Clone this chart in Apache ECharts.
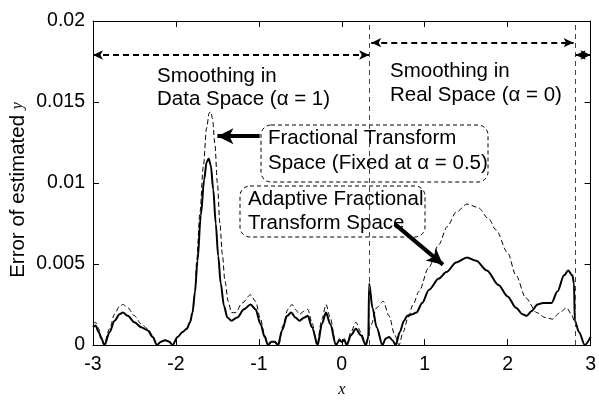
<!DOCTYPE html>
<html>
<head>
<meta charset="utf-8">
<script src="https://cdn.jsdelivr.net/npm/echarts@6/dist/echarts.min.js"></script>
<style>html,body{margin:0;padding:0;background:#fff}#c{width:599px;height:403px}</style>
</head>
<body>
<div id="c"></div>
<script>
// ---- data ----
const xTicks = [-3, -2, -1, 0, 1, 2, 3];
const yTicks = [0, 0.005, 0.01, 0.015, 0.02];

const adaptiveX = [-3.00,-2.97,-2.93,-2.90,-2.86,-2.80,-2.74,-2.68,-2.64,-2.58,-2.50,-2.42,-2.34,-2.28,-2.23,-2.18,-2.13,-2.08,-2.04,-1.98,-1.92,-1.87,-1.83,-1.80,-1.77,-1.74,-1.70,-1.66,-1.63,-1.605,-1.58,-1.55,-1.52,-1.49,-1.46,-1.42,-1.38,-1.33,-1.26,-1.18,-1.10,-1.04,-0.98,-0.93,-0.89,-0.85,-0.81,-0.77,-0.72,-0.66,-0.61,-0.56,-0.51,-0.45,-0.41,-0.36,-0.29,-0.24,-0.19,-0.14,-0.07,-0.03,0.00,0.03,0.06,0.11,0.17,0.23,0.29,0.32,0.33,0.37,0.42,0.49,0.53,0.57,0.61,0.65,0.70,0.75,0.79,0.85,0.90,0.97,1.05,1.17,1.26,1.38,1.51,1.62,1.75,1.89,2.00,2.10,2.18,2.23,2.29,2.36,2.43,2.53,2.60,2.68,2.73,2.78,2.80,2.81,2.86,2.93,3.00];
const adaptiveY = [0.0011,0.0012,0.0008,0.0004,0.0000,0.0008,0.0015,0.0019,0.0020,0.0018,0.0014,0.0011,0.0009,0.0005,0.0000,0.0002,0.0003,0.0002,0.0000,0.0005,0.0008,0.0010,0.0014,0.0020,0.0033,0.0052,0.0080,0.0102,0.0113,0.0115,0.0111,0.0096,0.0075,0.0055,0.0038,0.0024,0.0017,0.0015,0.0017,0.0022,0.0025,0.0022,0.0013,0.0005,0.0000,0.0002,0.0002,0.0000,0.0009,0.0018,0.0020,0.0017,0.0015,0.0017,0.0018,0.0011,0.0000,0.0013,0.0020,0.0013,0.0000,0.0003,0.0002,0.0003,0.0000,0.0006,0.0010,0.0006,0.0000,0.0005,0.0038,0.0023,0.0011,0.0000,0.0004,0.0005,0.0003,0.0000,0.0008,0.0015,0.0018,0.0019,0.0020,0.0026,0.0034,0.0041,0.0045,0.0051,0.0054,0.0052,0.0046,0.0037,0.0030,0.0023,0.0019,0.0018,0.0021,0.0025,0.0026,0.0026,0.0033,0.0043,0.0046,0.0043,0.0038,0.0015,0.0008,0.0000,0.0005];

const fixedX = [-3.00,-2.97,-2.93,-2.90,-2.87,-2.80,-2.74,-2.68,-2.64,-2.58,-2.50,-2.42,-2.34,-2.28,-2.23,-2.18,-2.13,-2.08,-2.04,-1.98,-1.92,-1.87,-1.83,-1.80,-1.77,-1.75,-1.71,-1.67,-1.63,-1.60,-1.58,-1.56,-1.53,-1.50,-1.47,-1.44,-1.41,-1.37,-1.33,-1.28,-1.20,-1.10,-1.04,-0.98,-0.93,-0.88,-0.84,-0.80,-0.76,-0.71,-0.65,-0.60,-0.56,-0.51,-0.45,-0.41,-0.36,-0.30,-0.24,-0.19,-0.14,-0.07,-0.03,0.00,0.03,0.06,0.11,0.17,0.23,0.29,0.35,0.42,0.50,0.57,0.64,0.69,0.74,0.80,0.86,0.93,1.05,1.17,1.27,1.38,1.51,1.64,1.77,1.86,2.00,2.10,2.22,2.35,2.45,2.54,2.63,2.71,2.77,2.81,2.86,2.93,3.00];
const fixedY = [0.0013,0.0014,0.0010,0.0005,0.0000,0.0010,0.0019,0.0024,0.0025,0.0023,0.0018,0.0013,0.0010,0.0006,0.0000,0.0002,0.0003,0.0002,0.0000,0.0005,0.0008,0.0010,0.0014,0.0020,0.0032,0.0052,0.0082,0.0110,0.0134,0.0143,0.0144,0.0140,0.0124,0.0100,0.0075,0.0056,0.0040,0.0027,0.0020,0.0020,0.0026,0.0031,0.0027,0.0016,0.0006,0.0000,0.0002,0.0002,0.0000,0.0012,0.0022,0.0025,0.0022,0.0019,0.0021,0.0022,0.0014,0.0000,0.0016,0.0025,0.0017,0.0000,0.0004,0.0002,0.0004,0.0000,0.0008,0.0014,0.0008,0.0000,0.0012,0.0023,0.0027,0.0018,0.0006,0.0000,0.0008,0.0017,0.0025,0.0033,0.0048,0.0062,0.0073,0.0082,0.0087,0.0085,0.0078,0.0071,0.0057,0.0043,0.0029,0.0020,0.0017,0.0016,0.0020,0.0023,0.0019,0.0014,0.0008,0.0000,0.0005];

// region boundaries and annotation anchor points (data coords)
const boundaries = [0.33, 2.807];
const regionArrows = [
  { from: [-3.0, 0.0179], to: [0.33, 0.0179] },
  { from: [0.355, 0.01866], to: [2.795, 0.01866] },
  { from: [2.82, 0.0179], to: [3.0, 0.0179] }
];
const pointerArrows = [
  { from: [-0.99, 0.01289], to: [-1.50, 0.01289] },
  { from: [0.64, 0.00746], to: [1.22, 0.00496] }
];

const zip = (xs, ys) => xs.map((x, i) => [x, ys[i]]);
const FONT = 'Liberation Sans, Arial, Helvetica, sans-serif';

const chart = echarts.init(document.getElementById('c'), null, { renderer: 'canvas' });

const axisCommon = {
  axisLine: { show: true, onZero: false, lineStyle: { color: '#000', width: 1 } },
  axisTick: { show: true, inside: true, length: 6, lineStyle: { color: '#000' } },
  splitLine: { show: false }
};

const option = {
  animation: false,
  backgroundColor: '#fff',
  grid: { left: 93, right: 7, top: 21, bottom: 39, show: false },
  xAxis: [
    Object.assign({}, axisCommon, {
      type: 'value', min: -3, max: 3, interval: 1, position: 'bottom',
      axisLabel: { color: '#000', fontSize: 19.5, fontFamily: FONT, margin: 10,
        formatter: v => xTicks.includes(v) ? String(v) : '' },
      name: 'x', nameLocation: 'middle', nameGap: 37,
      nameTextStyle: { fontFamily: 'Liberation Serif, serif', fontStyle: 'italic', fontSize: 16, color: '#000' }
    }),
    Object.assign({}, axisCommon, {
      type: 'value', min: -3, max: 3, interval: 1, position: 'top',
      axisLabel: { show: false }
    })
  ],
  yAxis: [
    Object.assign({}, axisCommon, {
      type: 'value', min: 0, max: 0.02, interval: 0.005, position: 'left',
      axisLabel: { color: '#000', fontSize: 19.5, fontFamily: FONT, margin: 8,
        formatter: v => { const t = yTicks.find(k => Math.abs(k - v) < 1e-9); return t === undefined ? '' : String(t); } }
    }),
    Object.assign({}, axisCommon, {
      type: 'value', min: 0, max: 0.02, interval: 0.005, position: 'right',
      axisLabel: { show: false }
    })
  ],
  series: [
    {
      name: 'Fixed', type: 'line', data: zip(fixedX, fixedY),
      showSymbol: false, smooth: 0.3, smoothMonotone: 'x',
      lineStyle: { color: '#000', width: 1, type: [5, 3] },
      z: 2,
      markLine: {
        silent: true, animation: false,
        label: { show: false },
        symbol: ['none', 'none'],
        data: [
          ...boundaries.map(b => ({ xAxis: b, symbol: 'none',
            lineStyle: { color: '#444', width: 1, type: [5, 4] } })),
          ...regionArrows.map(a => [
            { coord: a.from, symbol: 'arrow', symbolSize: [7, 10],
              lineStyle: { color: '#000', width: 2, type: [6, 4] } },
            { coord: a.to, symbol: 'arrow', symbolSize: [7, 10] }
          ])
        ]
      }
    },
    {
      name: 'Adaptive', type: 'line', data: zip(adaptiveX, adaptiveY),
      showSymbol: false, smooth: 0.3, smoothMonotone: 'x',
      lineStyle: { color: '#000', width: 2 },
      z: 3,
      markLine: {
        silent: true, animation: false,
        label: { show: false },
        data: pointerArrows.map(a => [
          { coord: a.from, symbol: 'none',
            lineStyle: { color: '#000', width: 4, type: 'solid' } },
          { coord: a.to, symbol: 'arrow', symbolSize: [12, 16] }
        ])
      }
    }
  ],
  graphic: [
    { type: 'text', x: 18, y: 190, rotation: Math.PI / 2,
      style: { text: 'Error of estimated {i|y}', fontSize: 20.5, fontFamily: FONT, fill: '#000',
        align: 'center', verticalAlign: 'middle',
        rich: { i: { fontFamily: 'Liberation Serif, serif', fontStyle: 'italic', fontSize: 16, fill: '#000' } } } },
    { type: 'text', x: 157, y: 65,
      style: { text: 'Smoothing in\nData Space (α = 1)', fontSize: 20.5, lineHeight: 23, fontFamily: FONT, fill: '#000' } },
    { type: 'text', x: 390, y: 59,
      style: { text: 'Smoothing in\nReal Space (α = 0)', fontSize: 20.5, lineHeight: 24, fontFamily: FONT, fill: '#000' } },
    { type: 'rect', shape: { x: 261, y: 125, width: 227, height: 57, r: 10 },
      style: { fill: 'none', stroke: '#000', lineWidth: 1, lineDash: [4, 3] } },
    { type: 'text', x: 268, y: 126,
      style: { text: 'Fractional Transform\nSpace (Fixed at α = 0.5)', fontSize: 20.5, lineHeight: 25, fontFamily: FONT, fill: '#000' } },
    { type: 'rect', shape: { x: 240, y: 186, width: 185, height: 51, r: 10 },
      style: { fill: 'none', stroke: '#000', lineWidth: 1, lineDash: [4, 3] } },
    { type: 'text', x: 248, y: 187,
      style: { text: 'Adaptive Fractional\nTransform Space', fontSize: 20.5, lineHeight: 24, fontFamily: FONT, fill: '#000' } }
  ]
};
chart.setOption(option);
</script>
</body>
</html>
